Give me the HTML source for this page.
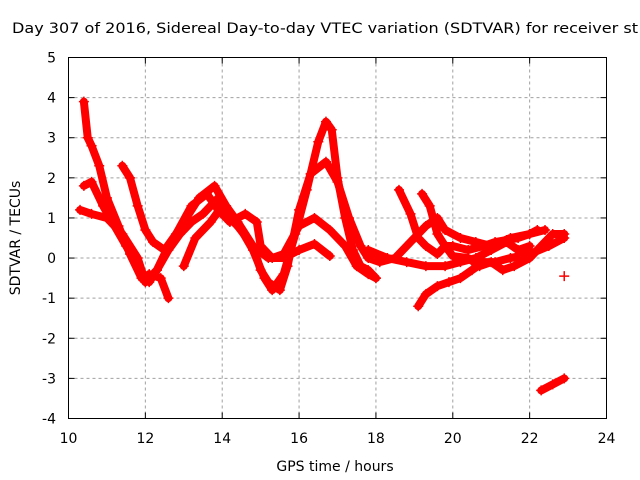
<!DOCTYPE html>
<html><head><meta charset="utf-8"><style>
body{margin:0;background:#fff}
svg{display:block;font-family:"DejaVu Sans","Liberation Sans",sans-serif}
</style></head><body>
<svg id="chart" width="640" height="480" viewBox="0 0 640 480" xmlns="http://www.w3.org/2000/svg">
<rect width="640" height="480" fill="#fff"/>
<text x="12" y="33" font-size="14" fill="#000" textLength="626" lengthAdjust="spacingAndGlyphs">Day 307 of 2016, Sidereal Day-to-day VTEC variation (SDTVAR) for receiver st</text>
<g id="grid"></g>
<g id="series"></g>
<rect x="68.5" y="57.5" width="538" height="361" fill="none" stroke="#000" stroke-width="1"/>
<g id="ticks"></g>
<text x="335" y="471" font-size="14" text-anchor="middle">GPS time / hours</text>
<text transform="translate(20,238) rotate(-90)" font-size="14" text-anchor="middle">SDTVAR / TECUs</text>
</svg>
<script>
const xTicks=[10,12,14,16,18,20,22,24];
const yTicks=[5,4,3,2,1,0,-1,-2,-3,-4];
const serA=[[10.4,3.9],[10.5,3.0],[10.6,2.8],[10.8,2.3],[11.0,1.5],[11.3,0.8],[11.6,0.1],[11.9,-0.5],[12.1,-0.6],[12.3,-0.3],[12.6,0.2],[12.9,0.6],[13.2,0.9],[13.5,1.1],[13.9,1.5],[14.2,1.0],[14.5,0.7],[14.8,0.2],[15.1,-0.5],[15.3,-0.8],[15.6,-0.4],[15.9,0.6],[16.2,1.7],[16.5,2.9],[16.7,3.4],[16.85,3.2],[17.0,2.0],[17.2,1.0],[17.4,0.2],[17.6,-0.2],[17.8,-0.3],[18.0,-0.5]];
const serB=[[10.4,1.8],[10.6,1.9],[10.9,1.3],[11.2,0.8],[11.5,0.3],[11.8,-0.2],[12.0,-0.6],[12.3,-0.3],[12.6,0.3],[13.0,0.9],[13.4,1.5],[13.8,1.8],[14.1,1.3],[14.4,0.9],[14.8,0.3],[15.0,-0.3],[15.2,-0.6],[15.5,-0.8],[15.7,-0.2],[16.0,1.2],[16.3,2.1],[16.7,2.4],[17.0,1.9],[17.3,1.0],[17.6,0.3],[17.8,0.0],[18.1,-0.1],[18.5,0.0],[18.9,0.4],[19.3,0.8],[19.6,1.0],[19.8,0.7],[20.2,0.5],[20.6,0.4],[21.0,0.3],[21.5,0.5],[22.0,0.6],[22.4,0.7]];
const serC=[[10.3,1.2],[10.6,1.1],[11.0,1.0],[11.4,0.6],[11.8,0.0],[12.0,-0.6],[12.1,-0.4],[12.4,-0.5],[12.6,-1.0]];
const serD=[[11.4,2.3],[11.6,2.0],[11.8,1.3],[12.0,0.7],[12.2,0.4],[12.5,0.2],[12.8,0.6],[13.2,1.3],[13.6,1.6],[13.9,1.2],[14.2,0.9],[14.6,1.1],[14.9,0.9],[15.0,0.3],[15.3,0.0],[15.6,0.1],[16.0,0.8],[16.4,1.0],[16.8,0.7],[17.2,0.3],[17.5,-0.2],[17.8,-0.4],[18.0,-0.5]];
const serE=[[13.0,-0.2],[13.3,0.5],[13.7,0.9],[14.0,1.3],[14.4,0.8],[14.8,0.3],[15.2,0.0],[15.6,0.0],[16.0,0.2],[16.4,0.35],[16.8,0.05]];
const serF=[[18.6,1.7],[18.9,1.1],[19.1,0.5],[19.3,0.3],[19.6,0.1],[19.8,0.3],[20.0,0.05],[20.4,0.0],[20.7,-0.2],[21.0,-0.1],[21.3,-0.3],[21.6,-0.2],[22.0,0.0],[22.3,0.3],[22.6,0.6],[22.9,0.6]];
const serG=[[19.2,1.6],[19.4,1.3],[19.6,0.6],[19.8,0.3],[20.0,0.3],[20.4,0.2],[20.8,0.3],[21.1,0.4],[21.4,0.45],[21.7,0.5],[22.0,0.6],[22.2,0.7]];
const serH=[[17.8,0.2],[18.3,0.0],[18.8,-0.1],[19.3,-0.2],[19.8,-0.2],[20.2,-0.1],[20.6,0.0],[21.0,0.2],[21.4,0.4],[21.7,0.2],[22.0,0.3]];
const serI=[[19.1,-1.2],[19.3,-0.9],[19.6,-0.7],[19.9,-0.6],[20.2,-0.5],[20.5,-0.3],[20.8,-0.1],[21.1,-0.1],[21.5,0.0],[22.0,0.1],[22.5,0.3],[22.9,0.5]];
const serJ=[[22.3,-3.3],[22.6,-3.15],[22.9,-3.0]];
const serK=[[22.9,-0.45]];
const allSeries=[serA,serB,serC,serD,serE,serF,serG,serH,serI,serJ,serK];

const X0=68.5,X1=606.5,Y0=418.5,Y1=57.5;
const sx=v=>X0+(v-10)/(24-10)*(X1-X0);
const sy=v=>Y0-(v+4)/(5+4)*(Y0-Y1);
const NS="http://www.w3.org/2000/svg";
const grid=document.getElementById('grid'),ticks=document.getElementById('ticks'),ser=document.getElementById('series');
function mk(tag,attrs,parent){const e=document.createElementNS(NS,tag);for(const k in attrs)e.setAttribute(k,attrs[k]);parent.appendChild(e);return e;}
xTicks.forEach(t=>{
  const x=sx(t);
  if(t>10&&t<24){const g=mk('line',{x1:x,x2:x,y1:Y1,y2:Y0,stroke:'#a0a0a0','stroke-dasharray':'3,3'},grid);
  
  }
  mk('line',{x1:x,x2:x,y1:Y0,y2:Y0-6,stroke:'#000'},ticks);
  mk('line',{x1:x,x2:x,y1:Y1,y2:Y1+6,stroke:'#000'},ticks);
  const l=mk('text',{x:x,y:443,'font-size':14,'text-anchor':'middle'},ticks);l.textContent=t;
  
  
});
yTicks.forEach(t=>{
  const y=sy(t);
  if(t<5&&t>-4){const g=mk('line',{x1:X0,x2:X1,y1:y,y2:y,stroke:'#a0a0a0','stroke-dasharray':'3,3'},grid);
  
  }
  mk('line',{x1:X0,x2:X0+6,y1:y,y2:y,stroke:'#000'},ticks);
  mk('line',{x1:X1,x2:X1-6,y1:y,y2:y,stroke:'#000'},ticks);
  const l=mk('text',{x:56,y:y+5,'font-size':14,'text-anchor':'end'},ticks);l.textContent=t;
  
  
});
allSeries.forEach((s,i)=>{
  const g=mk('g',{},ser);
  
  
  if(s.length>1){mk('polyline',{points:s.map(p=>sx(p[0])+','+sy(p[1])).join(' '),fill:'none',stroke:'#f00','stroke-width':8,'stroke-linejoin':'round','stroke-linecap':'round'},g);}
  s.forEach(p=>{const x=sx(p[0]),y=sy(p[1]);
    mk('path',{d:`M${x-5},${y}H${x+5}M${x},${y-5}V${y+5}`,stroke:'#f00','stroke-width':1.5},g);});
});
</script>
</body></html>
